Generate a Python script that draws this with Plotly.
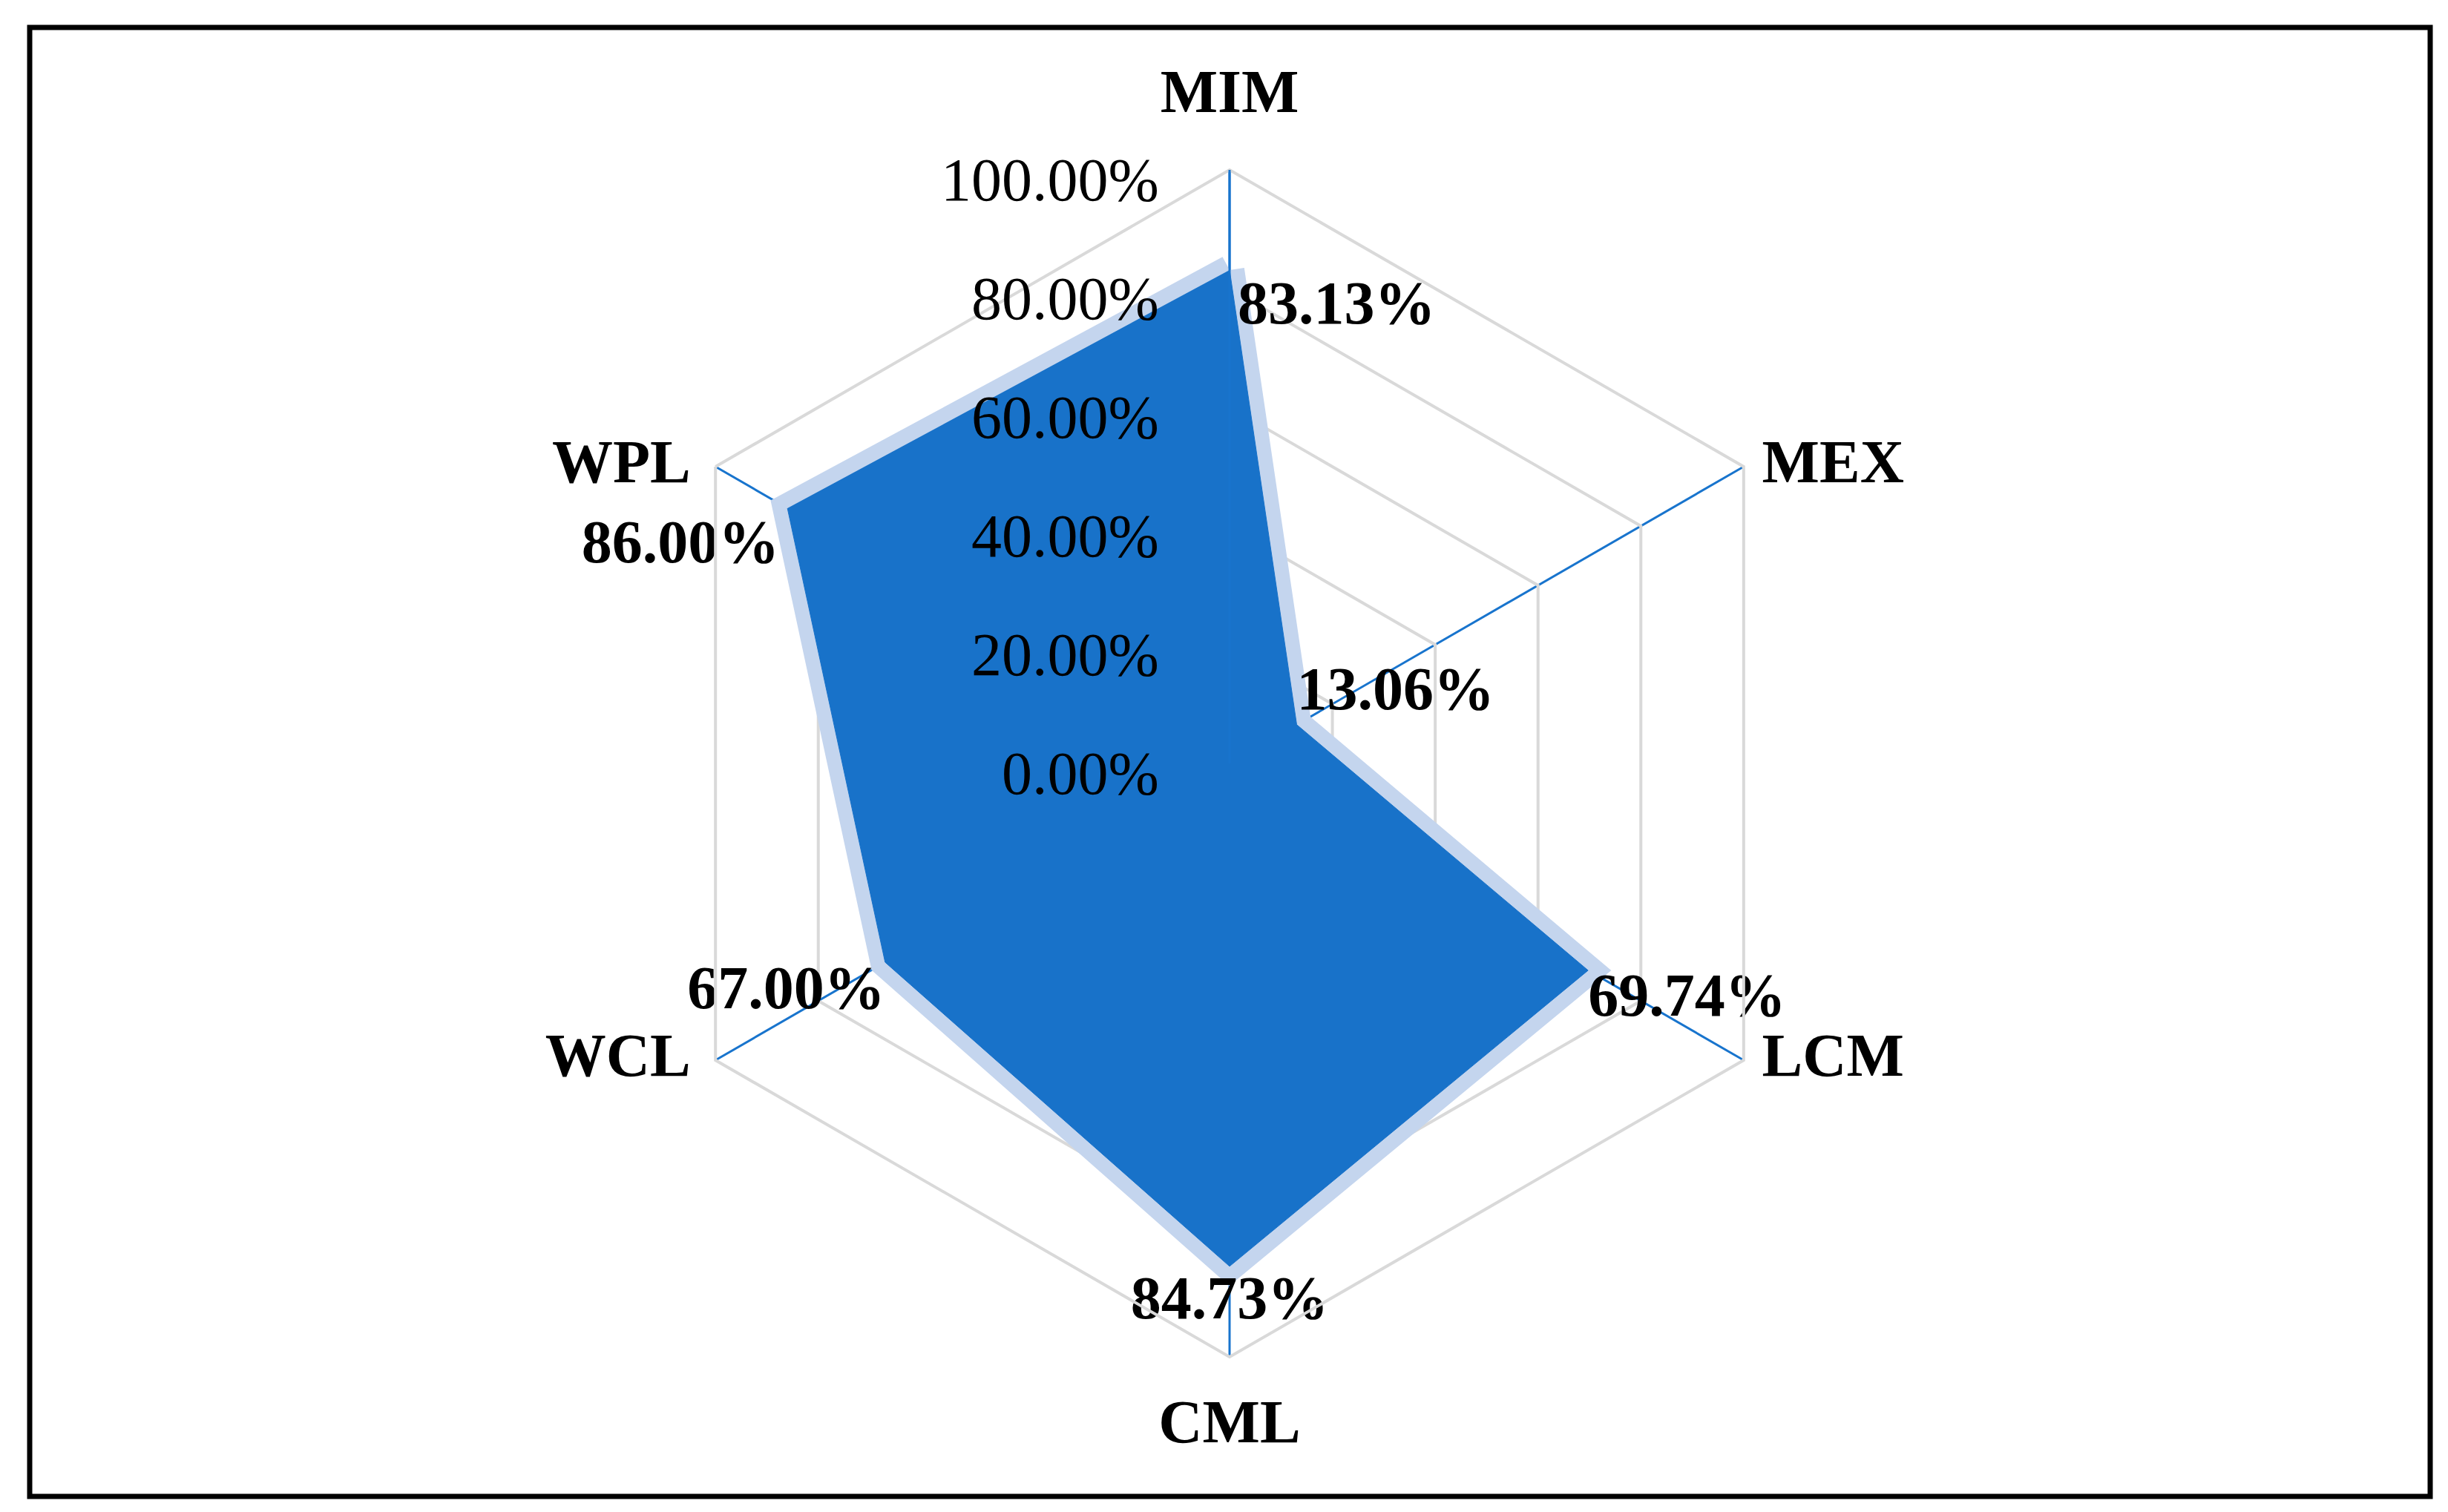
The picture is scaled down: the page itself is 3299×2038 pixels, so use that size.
import plotly.graph_objects as go

categories = ["MIM", "MEX", "LCM", "CML", "WCL", "WPL"]
values = [83.13, 13.06, 69.74, 84.73, 67.00, 86.00]
radial_ticks = [0, 20, 40, 60, 80, 100]
radial_ticktext = ["0.00%", "20.00%", "40.00%", "60.00%", "80.00%", "100.00%"]
label_positions = ["bottom right", "top right", "bottom right",
                   "bottom center", "bottom left", "bottom left"]
category_positions = ["top center", "middle right", "middle right",
                      "bottom center", "middle left", "middle left"]

W, H = 3299, 2038
FONT = "Liberation Serif"
MAIN = "#1872C9"
SHADOW = "#c4d5ee"
SPOKE = "#1874CD"
GRID = "#d9d9d9"

fig = go.Figure()

# soft outline / shadow behind the area
fig.add_trace(go.Scatterpolar(
    r=values + [values[0]], theta=categories + [categories[0]],
    mode="lines", fill="toself", fillcolor=SHADOW,
    line=dict(color=SHADOW, width=40), hoverinfo="skip", showlegend=False))

# main filled area
fig.add_trace(go.Scatterpolar(
    r=values, theta=categories, mode="lines", fill="toself",
    fillcolor=MAIN, line=dict(color=MAIN, width=1),
    hoverinfo="skip", showlegend=False))

# data labels (invisible markers only set the label offset)
fig.add_trace(go.Scatterpolar(
    r=values, theta=categories, mode="markers+text",
    marker=dict(size=[16, 0, 0, 12, 0, 16], opacity=0),
    text=[f"{v:.2f}%" for v in values],
    textposition=label_positions,
    textfont=dict(family=FONT, size=82, color="black", weight="bold"),
    hoverinfo="skip", showlegend=False))

# category labels at the outer ring
fig.add_trace(go.Scatterpolar(
    r=[radial_ticks[-1]] * len(categories), theta=categories,
    mode="markers+text",
    marker=dict(size=[90, 38, 38, 84, 52, 52], opacity=0),
    text=categories, textposition=category_positions,
    textfont=dict(family=FONT, size=82, color="black", weight="bold"),
    cliponaxis=False, hoverinfo="skip", showlegend=False))

cx, cy, R = 1649, 1021, 800
fig.update_layout(
    width=W, height=H,
    margin=dict(l=0, r=0, t=0, b=0),
    paper_bgcolor="white",
    showlegend=False,
    polar=dict(
        domain=dict(x=[(cx - R) / W, (cx + R) / W],
                    y=[(H - cy - R) / H, (H - cy + R) / H]),
        bgcolor="white",
        gridshape="linear",
        radialaxis=dict(
            range=[0, 100], tickvals=radial_ticks, ticktext=radial_ticktext,
            angle=90, side="counterclockwise",
            showline=True, linecolor=SPOKE, linewidth=3,
            gridcolor=GRID, gridwidth=4,
            ticks="outside", ticklen=20, tickcolor="rgba(0,0,0,0)",
            tickfont=dict(family=FONT, size=82, color="black")),
        angularaxis=dict(
            type="category", categoryarray=categories,
            direction="clockwise", rotation=90,
            showline=True, linecolor=GRID, linewidth=4,
            gridcolor=SPOKE, gridwidth=3,
            ticks="", showticklabels=False),
    ),
    shapes=[dict(type="rect", xref="paper", yref="paper",
                 x0=32 / W, x1=1 - 32 / W, y0=29 / H, y1=1 - 29 / H,
                 line=dict(color="black", width=7), fillcolor="rgba(0,0,0,0)")],
)

fig.write_html("out.html")
